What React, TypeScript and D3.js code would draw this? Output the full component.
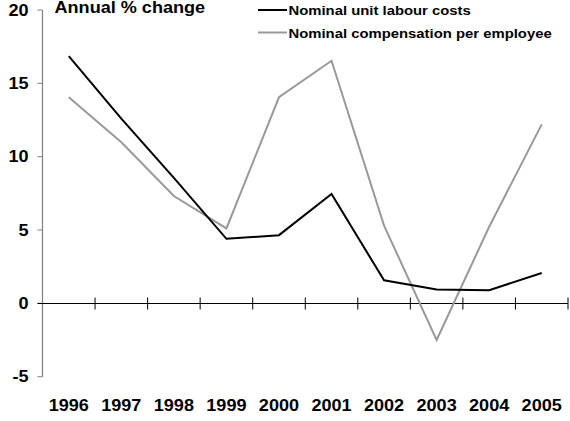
import React from "react";
import * as d3 from "d3";

const years = ["1996", "1997", "1998", "1999", "2000", "2001", "2002", "2003", "2004", "2005"];
const unitLabourCosts = [16.85, 12.6, 8.55, 4.4, 4.65, 7.45, 1.57, 0.95, 0.9, 2.07];
const compensationPerEmployee = [14.05, 10.98, 7.32, 5.11, 14.05, 16.54, 5.3, -2.5, 5.22, 12.2];
const yTicks = [-5, 0, 5, 10, 15, 20];
const seriesNames = ["Nominal unit labour costs", "Nominal compensation per employee"];
const title = "Annual % change";

const W = 570;
const H = 421;
const FONT = "'Liberation Sans', Arial, Helvetica, sans-serif";

function SText({ x, y, anchor = "start", size = 16, sx = 1.13, children }: any) {
  return (
    <text
      transform={`translate(${x},${y}) scale(${sx},1)`}
      textAnchor={anchor}
      fontFamily={FONT}
      fontWeight="bold"
      fontSize={size}
      fill="#000"
    >
      {children}
    </text>
  );
}

export default function App() {
  const x = d3.scaleBand<string>().domain(years).range([42.5, 568]).padding(0);
  const y = d3.scaleLinear().domain([-5, 20]).range([376.7, 10]);
  const cx = (d: string) => (x(d) as number) + x.bandwidth() / 2;

  const line = d3
    .line<number>()
    .x((_, i) => cx(years[i]))
    .y((v) => y(v));

  const y0 = Math.round(y(0)) + 0.5;
  const axisX = 42.5;
  const boundaries = years.map((d) => x(d) as number).concat([(x(years[years.length - 1]) as number) + x.bandwidth()]);

  return (
    <svg
      width={W}
      height={H}
      style={{ position: "absolute", left: 0, top: 0, background: "#fff" }}
    >
      <rect x={0} y={0} width={W} height={H} fill="#fff" />
      {/* y axis */}
      <line x1={axisX} x2={axisX} y1={y(20)} y2={y(-5)} stroke="#808080" strokeWidth={1.2} />
      {yTicks.map((t) => (
        <g key={t}>
          <line x1={axisX - 5} x2={axisX} y1={y(t)} y2={y(t)} stroke="#808080" strokeWidth={1} />
          <SText x={28.5} y={y(t) + 5.7} anchor="end">
            {t}
          </SText>
        </g>
      ))}
      {/* x axis at zero */}
      <line x1={axisX - 5} x2={568} y1={y0} y2={y0} stroke="#000" strokeWidth={1} />
      {boundaries.slice(1).map((b, i) => (
        <line key={i} x1={b} x2={b} y1={y0 - 6} y2={y0 + 6} stroke="#000" strokeWidth={1} />
      ))}
      {years.map((d) => (
        <SText key={d} x={cx(d)} y={410.7} anchor="middle">
          {d}
        </SText>
      ))}
      {/* series */}
      <path d={line(compensationPerEmployee) || ""} fill="none" stroke="#999999" strokeWidth={2} strokeLinejoin="miter" />
      <path d={line(unitLabourCosts) || ""} fill="none" stroke="#000" strokeWidth={2} strokeLinejoin="miter" />
      {/* title */}
      <SText x={54.5} y={12.8}>
        {title}
      </SText>
      {/* legend */}
      <line x1={258} x2={287} y1={10} y2={10} stroke="#000" strokeWidth={2} />
      <SText x={288.5} y={15} size={13.5} sx={1.1}>
        {seriesNames[0]}
      </SText>
      <line x1={258} x2={287} y1={32.5} y2={32.5} stroke="#999999" strokeWidth={2} />
      <SText x={288.5} y={37.5} size={13.5} sx={1.1}>
        {seriesNames[1]}
      </SText>
    </svg>
  );
}
